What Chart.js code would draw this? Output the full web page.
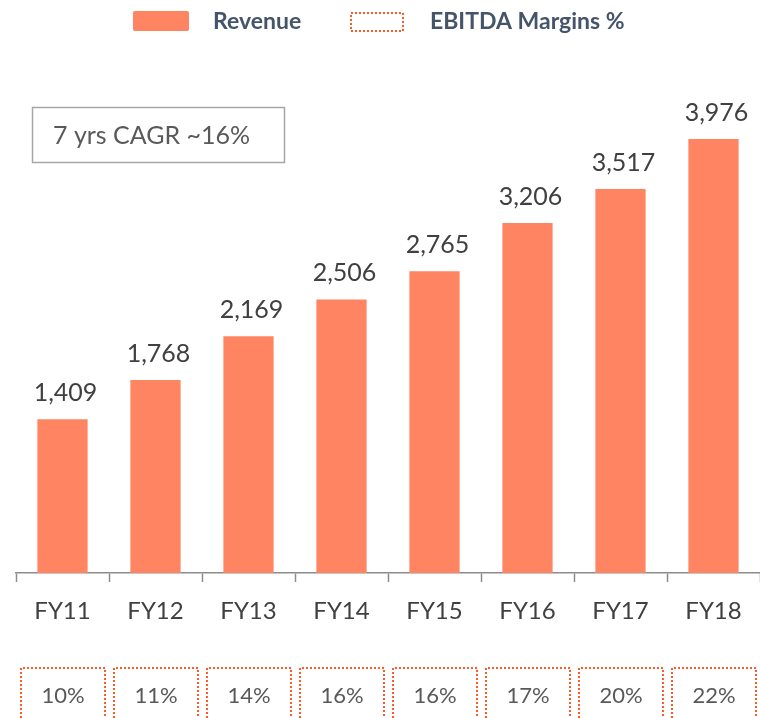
<!DOCTYPE html>
<html>
<head>
<meta charset="utf-8">
<script src="https://cdn.jsdelivr.net/npm/chart.js@4.4.1/dist/chart.umd.min.js"></script>
<style>
  html, body { margin: 0; padding: 0; background: #fff; }
  #wrap { width: 760px; height: 718px; }
</style>
</head>
<body>
<div id="wrap"><canvas id="revenueChart"></canvas></div>
<script>
// data
const years = ['FY11', 'FY12', 'FY13', 'FY14', 'FY15', 'FY16', 'FY17', 'FY18'];
const revenue = [1409, 1768, 2169, 2506, 2765, 3206, 3517, 3976];
const ebitdaMargins = [10, 11, 14, 16, 16, 17, 20, 22];
const cagrNote = '7 yrs CAGR ~16%';

const BAR_COLOR = '#FF8461';
const DOT_COLOR = '#FF5A26';
const FONT = 'Lato, "Open Sans", sans-serif';

// value labels above bars
const valueLabels = {
    id: 'valueLabels',
    afterDatasetsDraw(chart) {
        const ctx = chart.ctx;
        const meta = chart.getDatasetMeta(0);
        ctx.save();
        ctx.font = `25px ${FONT}`;
        ctx.fillStyle = '#404040';
        ctx.textAlign = 'center';
        ctx.textBaseline = 'alphabetic';
        meta.data.forEach((bar, i) => {
            ctx.fillText(revenue[i].toLocaleString('en-US'), bar.x + 3, bar.y - 18);
        });
        ctx.restore();
    }
};

// legend, CAGR note and the EBITDA margin boxes under the axis
const extras = {
    id: 'extras',
    afterDraw(chart) {
        const ctx = chart.ctx;
        const x = chart.scales.x;
        ctx.save();

        // legend
        ctx.fillStyle = BAR_COLOR;
        ctx.beginPath();
        ctx.roundRect(133, 11, 56, 20, 2);
        ctx.fill();
        ctx.strokeStyle = DOT_COLOR;
        ctx.lineWidth = 2;
        ctx.setLineDash([2, 2]);
        ctx.strokeRect(351, 13, 52, 18);
        ctx.setLineDash([]);
        ctx.font = `bold 23px ${FONT}`;
        ctx.fillStyle = '#44546A';
        ctx.textBaseline = 'middle';
        ctx.textAlign = 'left';
        ctx.fillText('Revenue', 213, 22);
        ctx.fillText('EBITDA Margins %', 430, 22);

        // CAGR note
        ctx.strokeStyle = '#A6A6A6';
        ctx.lineWidth = 1.5;
        ctx.strokeRect(32.5, 107.5, 252, 55);
        ctx.font = `25px ${FONT}`;
        ctx.fillStyle = '#595959';
        ctx.fillText(cagrNote, 53, 136);

        // EBITDA margin boxes
        const ds = chart.data.datasets[1];
        ctx.font = `22px ${FONT}`;
        ctx.textAlign = 'center';
        ds.data.forEach((m, i) => {
            const cx = Math.round(x.getPixelForValue(i));
            const w = 84;
            ctx.strokeStyle = DOT_COLOR;
            ctx.lineWidth = 2;
            ctx.setLineDash([2, 2]);
            ctx.beginPath();
            ctx.moveTo(cx - w / 2, 730);
            ctx.lineTo(cx - w / 2, 668);
            ctx.lineTo(cx + w / 2, 668);
            ctx.lineTo(cx + w / 2, 730);
            ctx.stroke();
            ctx.setLineDash([]);
            ctx.fillStyle = '#595959';
            ctx.fillText(m + '%', cx, 696);
        });
        ctx.restore();
    }
};

new Chart(document.getElementById('revenueChart'), {
    type: 'bar',
    data: {
        labels: years,
        datasets: [{
            label: 'Revenue',
            data: revenue,
            backgroundColor: BAR_COLOR,
            categoryPercentage: 1,
            barPercentage: 0.54,
            yAxisID: 'y'
        }, {
            label: 'EBITDA Margins %',
            type: 'line',
            data: ebitdaMargins,
            showLine: false,
            pointRadius: 0,
            pointHoverRadius: 0,
            yAxisID: 'yM'
        }]
    },
    options: {
        responsive: true,
        maintainAspectRatio: false,
        animation: false,
        layout: { padding: { top: 60, left: 16, right: 0, bottom: 0 } },
        plugins: {
            legend: { display: false },
            tooltip: { enabled: false }
        },
        scales: {
            x: {
                offset: true,
                grid: {
                    display: true,
                    offset: true,
                    drawOnChartArea: false,
                    tickLength: 9,
                    tickWidth: 1.5,
                    tickColor: '#8C8C8C'
                },
                border: { color: '#8C8C8C', width: 1.5 },
                ticks: {
                    color: '#404040',
                    font: { family: FONT, size: 24 },
                    padding: 15
                },
                afterFit(scale) { scale.height = 145; }
            },
            y: {
                display: false,
                min: 0,
                max: 4700
            },
            yM: {
                display: false,
                min: 0,
                max: 100
            }
        }
    },
    plugins: [valueLabels, extras]
});
</script>
</body>
</html>
